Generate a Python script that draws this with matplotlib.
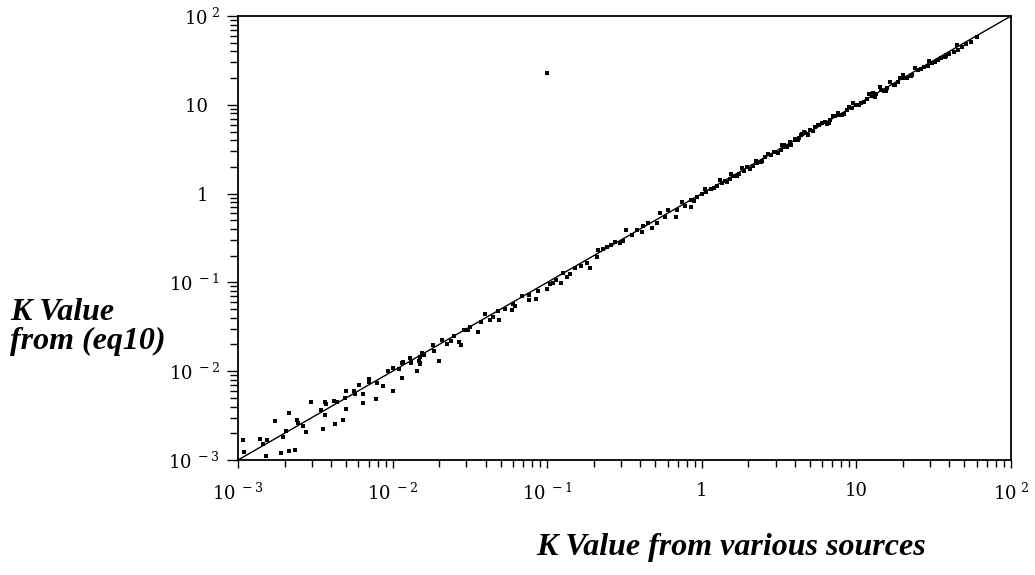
import numpy as np
import matplotlib
matplotlib.use("Agg")
import matplotlib.pyplot as plt

plt.rcParams["font.family"] = "DejaVu Serif"
plt.rcParams["mathtext.fontset"] = "dejavuserif"

# log10 of K from various sources (x) and K from eq10 (y)
log_k_sources = [
    -2.97, -2.96, -2.86, -2.84, -2.81, -2.82, -2.76, -2.72, -2.71, -2.69,
    -2.67, -2.67, -2.63, -2.62, -2.61, -2.58, -2.56, -2.53, -2.45, -2.46,
    -2.44, -2.43, -2.44, -2.37, -2.38, -2.36, -2.32, -2.30, -2.31, -2.30,
    -2.25, -2.24, -2.22, -2.19, -2.19, -2.15, -2.15, -2.11, -2.10, -2.06,
    -2.03, -2.00, -2.00, -1.96, -1.94, -1.94, -1.93, -1.88, -1.88, -1.83,
    -1.84, -1.82, -1.81, -1.80,
    -1.89, -1.82, -1.82, -1.74, -1.73, -1.68, -1.70, -1.65, -1.60, -1.57,
    -1.56, -1.54, -1.51, -1.50, -1.45, -1.43, -1.37, -1.35, -1.31, -1.32,
    -1.23, -1.21, -1.22, -1.16, -1.12, -1.12, -1.07, -1.06, -1.00, -0.96,
    -0.94, -0.91, -0.90, -0.87, -0.85, -0.82, -0.78, -0.74, -0.72, -0.68,
    -0.67,
    -0.64, -0.59, -0.56, -0.53, -0.49, -0.45, -0.42, -0.39, -0.38, -0.32,
    -0.29, -0.27, -0.22, -0.17, -0.16, -0.11, -0.07, -0.07, -0.03,
    0.00, 0.03, 0.06, 0.10, 0.13, 0.15, 0.18, 0.21, 0.24, 0.27,
    0.29, 0.33, 0.36, 0.39, 0.41, 0.45, 0.47, 0.51, 0.54, 0.57,
    0.60, 0.63,
    0.53, 0.57, 0.60, 0.64, 0.67, 0.70, 0.73, 0.76, 0.80, 0.83,
    0.86, 0.89, 0.94, 0.97, 1.00, 1.03, 1.07, 1.10, 1.13, 1.16,
    1.20, 1.24, 1.27, 1.31, 1.36, 1.40, 1.44, 1.49, 1.53, 1.57,
    1.63, 1.68, 1.71,
    0.55, 0.62, 0.66, 0.72, 0.78, 0.82, 0.88, 0.92, 0.98, 1.02,
    1.08, 1.12, 1.15, 1.18, 1.22, 1.25, 1.30, 1.33, 1.38, 1.42,
    1.46, 1.51, 1.55, 1.60, 1.66, 1.74, 1.78,
    0.02, 0.08, 0.12, 0.16, 0.19, 0.23, 0.26, 0.31, 0.35, 0.38,
    0.43, 0.49, 0.52, 0.58, 0.65, 0.69, 0.75, 0.81, 0.85, 0.91,
    0.95, 1.05, 1.11, 1.19, 1.28, 1.35, 1.47, 1.58, 1.65,
    -0.61, -0.51, -0.35, -0.24, -0.13, -0.05, -0.98, -1.27, -1.40, -1.62,
    -1.00,
]
log_k_eq10 = [
    -2.77, -2.91, -2.76, -2.82, -2.78, -2.95, -2.56, -2.92, -2.74, -2.67,
    -2.90, -2.47, -2.89, -2.55, -2.58, -2.62, -2.69, -2.35, -2.65, -2.44,
    -2.35, -2.37, -2.49, -2.59, -2.33, -2.35, -2.55, -2.43, -2.30, -2.22,
    -2.22, -2.26, -2.16, -2.26, -2.36, -2.09, -2.12, -2.31, -2.13, -2.17,
    -2.00, -1.96, -2.22, -1.97, -1.91, -2.08, -1.90, -1.88, -1.91, -1.88,
    -2.00, -1.92, -1.79, -1.82,
    -1.85, -1.91, -1.84, -1.70, -1.77, -1.65, -1.88, -1.69, -1.60, -1.67,
    -1.70, -1.54, -1.54, -1.50, -1.56, -1.45, -1.42, -1.39, -1.42, -1.32,
    -1.31, -1.27, -1.24, -1.15, -1.20, -1.14, -1.19, -1.10, -1.07, -1.01,
    -0.97, -1.01, -0.89, -0.94, -0.90, -0.84, -0.82, -0.78, -0.84, -0.71,
    -0.64,
    -0.62, -0.58, -0.54, -0.56, -0.41, -0.47, -0.41, -0.43, -0.37, -0.39,
    -0.33, -0.22, -0.19, -0.26, -0.18, -0.14, -0.15, -0.07, -0.04,
    -0.01, 0.02, 0.05, 0.08, 0.12, 0.14, 0.16, 0.20, 0.22, 0.25,
    0.30, 0.31, 0.35, 0.37, 0.41, 0.43, 0.47, 0.49, 0.53, 0.56,
    0.60, 0.63,
    0.55, 0.58, 0.62, 0.66, 0.68, 0.72, 0.75, 0.77, 0.81, 0.83,
    0.87, 0.89, 0.94, 0.96, 1.00, 1.02, 1.06, 1.10, 1.12, 1.17,
    1.19, 1.22, 1.26, 1.30, 1.34, 1.39, 1.43, 1.47, 1.50, 1.54,
    1.59, 1.65, 1.69,
    0.52, 0.60, 0.69, 0.70, 0.80, 0.79, 0.91, 0.90, 1.02, 1.00,
    1.12, 1.09, 1.20, 1.15, 1.26, 1.22, 1.33, 1.30, 1.41, 1.40,
    1.44, 1.48, 1.53, 1.57, 1.62, 1.71, 1.76,
    0.05, 0.06, 0.15, 0.13, 0.22, 0.20, 0.29, 0.28, 0.37, 0.36,
    0.45, 0.46, 0.55, 0.55, 0.67, 0.66, 0.77, 0.78, 0.87, 0.88,
    0.98, 1.03, 1.13, 1.16, 1.30, 1.32, 1.49, 1.55, 1.67,
    -0.60, -0.53, -0.33, -0.26, -0.10, -0.08, -1.02, -1.30, -1.36, -1.66,
    1.36,
]

# parity line K(eq10) = K(sources)
parity = [1e-3, 1e2]

x_tick_values = [1e-3, 1e-2, 1e-1, 1, 10, 1e2]
x_tick_labels = [r"$10^{\ -3}$", r"$10^{\ -2}$", r"$10^{\ -1}$", "1", "10", r"$10^{\ 2}$"]
y_tick_labels = [r"$10^{\ -3}$", r"$10^{\ -2}$", r"$10^{\ -1}$", "1\u2007", "10\u2007", r"$10^{\ 2}$"]

fig = plt.figure(figsize=(10.35, 5.75), dpi=100)
ax = fig.add_axes([238 / 1035, 1 - 460 / 575, (1011 - 238) / 1035, (460 - 16) / 575])

ax.set_xscale("log")
ax.set_yscale("log")
ax.set_xlim(parity)
ax.set_ylim(parity)

ax.plot(parity, parity, color="black", lw=1.0, zorder=2)
ax.scatter(np.power(10.0, log_k_sources), np.power(10.0, log_k_eq10),
           s=7, color="black", marker="s", linewidths=0, zorder=3)

ax.set_xticks(x_tick_values, x_tick_labels)
ax.set_yticks(x_tick_values, y_tick_labels)
ax.tick_params(axis="both", which="both", direction="out", top=False, right=False,
               labelsize=13, color="black")
ax.tick_params(axis="x", which="major", length=6, width=1.0, pad=10)
ax.tick_params(axis="x", which="minor", length=5, width=1.0)
ax.tick_params(axis="y", which="major", length=8, width=1.0, pad=5)
ax.tick_params(axis="y", which="minor", length=6, width=1.0)
for sp in ax.spines.values():
    sp.set_linewidth(1.3)

label_font = dict(family="Liberation Serif", fontweight="bold", fontstyle="italic", fontsize=23)
fig.text(10 / 1035, 1 - 313 / 575, "K Value", ha="left", va="center", **label_font)
fig.text(10 / 1035, 1 - 341 / 575, "from (eq10)", ha="left", va="center", **label_font)
fig.text(731 / 1035, 1 - 548 / 575, "K Value from various sources", ha="center", va="center",
         **label_font)

fig.savefig("out.png", dpi=100, facecolor="white")
